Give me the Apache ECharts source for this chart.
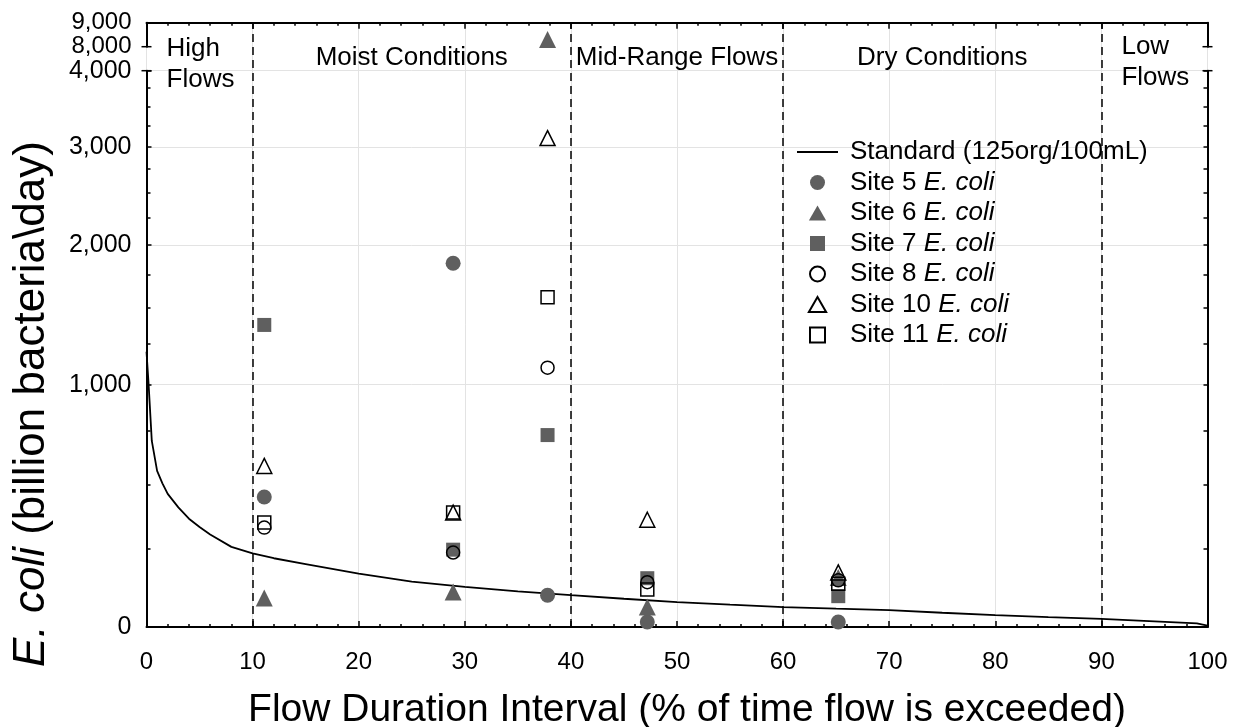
<!DOCTYPE html>
<html>
<head>
<meta charset="utf-8">
<title>E. coli load duration curve</title>
<script src="https://cdn.jsdelivr.net/npm/echarts@6/dist/echarts.min.js"></script>
<style>
  html, body { margin: 0; padding: 0; background: #fff; }
  #chart { width: 1234px; height: 727px; }
</style>
</head>
<body>
<div id="chart"></div>
<script>
// y axis: log scale of (value + OFFSET) from 0 to 4,000, broken, then 8,000 - 9,000 linear
const OFFSET = 950;
const yMajor = [0, 1000, 2000, 3000, 4000];
const yMinorStep = 250;
const yUpper = [8000, 9000];

const zoneBounds = [10, 40, 60, 90];
const zoneNames = ['High\nFlows', 'Moist Conditions', 'Mid-Range Flows', 'Dry Conditions', 'Low\nFlows'];

// [flow duration %, billion bacteria/day]
const standardCurve = [
  [0, 1200], [0.2, 1000], [0.5, 700], [1, 560], [1.5, 505], [2, 460], [3, 405], [4, 360],
  [5, 328], [6, 300], [8, 255], [10, 232], [12, 215], [15, 195], [20, 163], [25, 137],
  [30, 120], [35, 106], [40, 94], [45, 83], [50, 73], [55, 65], [60, 58], [65, 53],
  [70, 49], [75, 41], [80, 34], [85, 28], [90, 23], [95, 16], [99, 10], [100, 4]
];
const site5 = [[11.1, 447], [28.9, 1845], [37.8, 94], [47.2, 14], [65.2, 14]];
const site6 = [[11.1, 85], [28.9, 104], [37.8, 8300], [47.2, 58], [65.2, 150]];
const site7 = [[11.1, 1378], [28.9, 245], [37.8, 729], [47.2, 148], [65.2, 91]];
const site8 = [[11.1, 326], [28.9, 235], [37.8, 1101], [47.2, 135], [65.2, 141]];
const site10 = [[11.1, 582], [28.9, 384], [37.8, 3103], [47.2, 356], [65.2, 167]];
const site11 = [[11.1, 345], [28.9, 384], [37.8, 1578], [47.2, 112], [65.2, 130]];

const FONT = '"Liberation Sans", Arial, sans-serif';
const GRAY = '#5f5f5f';
const STD_NAME = 'Standard (125org/100mL)';

const shift = v => v + OFFSET;
const fmt = v => Math.round(v).toLocaleString('en-US');
const minorTicks = [];
for (let v = 0; v <= yMajor[yMajor.length - 1]; v += yMinorStep) minorTicks.push(shift(v));

// legend icons: paths keep their aspect ratio inside the legend item box
const ICON_TRI = 'path://M5,0L10,8.7L0,8.7Z';
const ICON_RECT = 'path://M0,0H10V10H0Z';

const sites = [
  { name: 'Site 5 E. coli', data: site5, symbol: 'circle', icon: 'circle', size: 15, fill: GRAY, border: GRAY },
  { name: 'Site 6 E. coli', data: site6, symbol: 'triangle', icon: ICON_TRI, size: 17, fill: GRAY, border: GRAY },
  { name: 'Site 7 E. coli', data: site7, symbol: 'rect', icon: ICON_RECT, size: 14, fill: GRAY, border: GRAY },
  { name: 'Site 8 E. coli', data: site8, symbol: 'circle', icon: 'circle', size: 13, fill: 'transparent', border: '#000' },
  { name: 'Site 10 E. coli', data: site10, symbol: 'triangle', icon: ICON_TRI, size: 15, fill: 'transparent', border: '#000' },
  { name: 'Site 11 E. coli', data: site11, symbol: 'rect', icon: ICON_RECT, size: 13, fill: 'transparent', border: '#000' }
];

const blackLine = { color: '#000', width: 2 };
const tickLine = { color: '#000', width: 1.5 };

const chart = echarts.init(document.getElementById('chart'));

const series = [
  {
    type: 'line',
    name: 'bg',
    xAxisIndex: 2,
    yAxisIndex: 5,
    data: [],
    silent: true,
    markLine: {
      silent: true,
      symbol: ['none', 'none'],
      label: { show: false },
      lineStyle: { color: '#000', width: 1.5, type: [8, 5] },
      data: zoneBounds.map(x => ({ xAxis: x }))
    },
    markArea: {
      silent: true,
      itemStyle: { color: 'transparent' },
      label: {
        show: true,
        position: 'insideTop',
        distance: 22,
        color: '#000',
        fontFamily: FONT,
        fontSize: 26
      },
      data: zoneNames.map((name, i) => {
        const lo = i === 0 ? 0 : zoneBounds[i - 1];
        const hi = i === zoneNames.length - 1 ? 100 : zoneBounds[i];
        const item = { xAxis: lo, name: name };
        if (name.indexOf('\n') >= 0) {
          item.label = {
            distance: i === 0 ? 11 : 9,
            formatter: p => p.name.split('\n').map(s => '{l|' + s + '}').join('\n'),
            rich: { l: { width: 66, align: 'left', fontSize: 26, fontFamily: FONT, lineHeight: 31, color: '#000' } }
          };
        }
        return [item, { xAxis: hi }];
      })
    }
  },
  {
    type: 'line',
    name: STD_NAME,
    xAxisIndex: 0,
    yAxisIndex: 0,
    data: standardCurve.map(d => [d[0], shift(d[1])]),
    symbol: 'none',
    lineStyle: { color: '#000', width: 1.8 },
    itemStyle: { color: '#000' },
    z: 3
  }
];

sites.forEach(s => {
  const base = {
    type: 'scatter',
    name: s.name,
    symbol: s.symbol,
    symbolSize: s.size,
    itemStyle: { color: s.fill, borderColor: s.border, borderWidth: s.fill === 'transparent' ? 1.5 : 0, opacity: 1 },
    clip: true,
    z: 4
  };
  series.push(Object.assign({}, base, {
    xAxisIndex: 0, yAxisIndex: 0,
    data: s.data.map(d => [d[0], shift(d[1])])
  }));
  series.push(Object.assign({}, base, {
    xAxisIndex: 1, yAxisIndex: 3,
    data: s.data
  }));
});

const gridBox = { left: 146.5, right: 26.5, containLabel: false, outerBoundsMode: 'none' };

chart.setOption({
  animation: false,
  backgroundColor: '#fff',
  textStyle: { fontFamily: FONT, color: '#000' },
  grid: [
    Object.assign({ top: 70.7, bottom: 100 }, gridBox),
    Object.assign({ top: 22.7, height: 24 }, gridBox),
    Object.assign({ top: 22.7, bottom: 100 }, gridBox)
  ],
  legend: {
    orient: 'vertical',
    left: 797,
    top: 139,
    padding: 0,
    itemWidth: 41,
    itemHeight: 15,
    itemGap: 4.5,
    selectedMode: false,
    data: [{ name: STD_NAME, icon: 'path://M0,0H41V1.8H0Z' }]
      .concat(sites.map(s => ({ name: s.name, icon: s.icon }))),
    formatter: name => {
      const i = name.indexOf('E. coli');
      if (i < 0) return '{n|' + name + '}';
      return '{n|' + name.slice(0, i) + '}{i|E. coli}';
    },
    textStyle: {
      padding: [0, 0, 0, 7],
      rich: {
        n: { fontSize: 26, fontFamily: FONT, color: '#000', lineHeight: 26 },
        i: { fontSize: 26, fontFamily: FONT, fontStyle: 'italic', color: '#000', lineHeight: 26 }
      }
    }
  },
  xAxis: [
    {
      gridIndex: 0, type: 'value', min: 0, max: 100, interval: 10, position: 'bottom',
      name: 'Flow Duration Interval (% of time flow is exceeded)',
      nameLocation: 'middle', nameGap: 64,
      nameTextStyle: { fontSize: 39, fontFamily: FONT, color: '#000', padding: [0, 0, 0, 20] },
      axisLine: { lineStyle: blackLine },
      axisTick: { inside: true, length: 6, lineStyle: tickLine },
      minorTick: { show: true, splitNumber: 5, length: 3, lineStyle: tickLine },
      axisLabel: { fontSize: 24, color: '#000', margin: 23, fontFamily: FONT, hideOverlap: false },
      splitLine: { show: false }
    },
    {
      gridIndex: 1, type: 'value', min: 0, max: 100, interval: 10, position: 'top',
      axisLine: { lineStyle: blackLine },
      axisTick: { inside: true, length: 6, lineStyle: tickLine },
      minorTick: { show: true, splitNumber: 5, length: 3, lineStyle: tickLine },
      axisLabel: { show: false },
      splitLine: { show: false }
    },
    {
      gridIndex: 2, type: 'value', min: 0, max: 100, interval: 10,
      axisLine: { show: false }, axisTick: { show: false }, axisLabel: { show: false },
      splitLine: { show: true, lineStyle: { color: '#e3e3e3', width: 1 } }
    }
  ],
  yAxis: [
    {
      gridIndex: 0, type: 'log', logBase: 10, min: shift(0), max: shift(4000), position: 'left',
      axisLine: { lineStyle: blackLine },
      axisTick: { inside: true, length: 5, lineStyle: tickLine, customValues: yMajor.map(shift) },
      axisLabel: {
        customValues: yMajor.map(shift),
        formatter: v => fmt(v - OFFSET),
        fontSize: 25, color: '#000', margin: 15, fontFamily: FONT, hideOverlap: false
      },
      splitLine: { show: true, lineStyle: { color: '#e3e3e3', width: 1 } },
      minorTick: { show: false }
    },
    {
      gridIndex: 0, type: 'log', logBase: 10, min: shift(0), max: shift(4000), position: 'left',
      axisLine: { show: false },
      axisTick: { inside: true, length: 4, lineStyle: tickLine, customValues: minorTicks },
      axisLabel: { show: false },
      splitLine: { show: false }
    },
    {
      gridIndex: 0, type: 'log', logBase: 10, min: shift(0), max: shift(4000), position: 'right',
      axisLine: { lineStyle: blackLine },
      axisTick: { inside: true, length: 4, lineStyle: tickLine, customValues: minorTicks },
      axisLabel: { show: false },
      splitLine: { show: false }
    },
    {
      gridIndex: 1, type: 'value', min: yUpper[0], max: yUpper[1], interval: yUpper[1] - yUpper[0], position: 'left',
      axisLine: { lineStyle: blackLine },
      axisTick: { show: false },
      axisLabel: {
        formatter: v => fmt(v), fontSize: 24, color: '#000', margin: 15, fontFamily: FONT,
        hideOverlap: false, showMinLabel: true, showMaxLabel: true
      },
      splitLine: { show: false }
    },
    {
      gridIndex: 1, type: 'value', min: yUpper[0], max: yUpper[1], position: 'right',
      axisLine: { lineStyle: blackLine },
      axisTick: { show: false }, axisLabel: { show: false }, splitLine: { show: false }
    },
    {
      gridIndex: 2, type: 'value', min: 0, max: 1, show: false
    }
  ],
  series: series
});

// break caps on both y axes and the y axis title
const extras = [];
[0, 100].forEach(x => {
  const lower = chart.convertToPixel({ xAxisIndex: 0, yAxisIndex: 0 }, [x, shift(4000)]);
  const upper = chart.convertToPixel({ xAxisIndex: 1, yAxisIndex: 3 }, [x, yUpper[0]]);
  [lower, upper].forEach(p => {
    extras.push({
      type: 'line', silent: true, z: 10,
      shape: { x1: p[0] - 5, y1: p[1], x2: p[0] + 5, y2: p[1] },
      style: { stroke: '#000', lineWidth: 1.5 }
    });
  });
});
extras.push({
  type: 'text', silent: true,
  x: 32, y: 404, rotation: Math.PI / 2,
  style: {
    text: '{i|E. coli} (billion bacteria\\day)',
    fontSize: 44, fontFamily: FONT, fill: '#000',
    align: 'center', verticalAlign: 'middle',
    rich: { i: { fontStyle: 'italic', fontSize: 44, fontFamily: FONT } }
  }
});
chart.setOption({ graphic: extras });
</script>
</body>
</html>
